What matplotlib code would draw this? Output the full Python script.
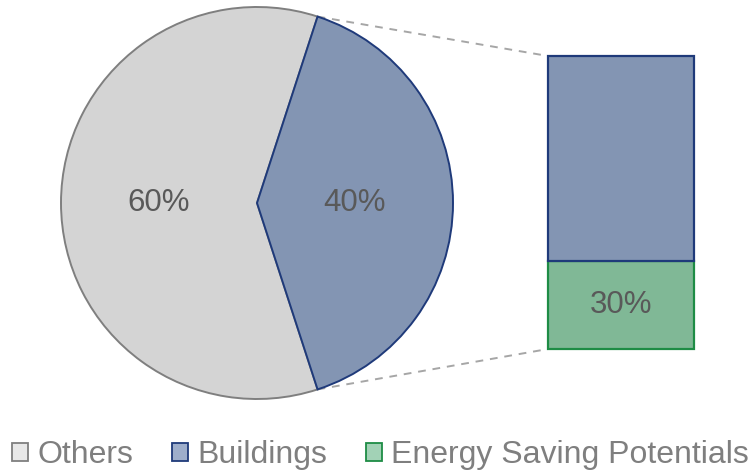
import matplotlib.pyplot as plt
import matplotlib.patches as mpatches
import numpy as np

plt.rcParams['font.family'] = ['Liberation Sans', 'DejaVu Sans']

# pie shares
pie_labels = ['Buildings', 'Others']
pie_values = [40, 60]
# breakdown of the buildings share
bar_labels = ['Energy Saving Potentials', 'Buildings']
bar_values = [30, 70]
legend_labels = ['Others', 'Buildings', 'Energy Saving Potentials']

fill = {'Others': '#d4d4d4', 'Buildings': '#8395b3', 'Energy Saving Potentials': '#80b896'}
edge = {'Others': '#7f7f7f', 'Buildings': '#1f3a7a', 'Energy Saving Potentials': '#1e8c45'}
light = {'Others': '#e8e8e8', 'Buildings': '#9eaecb', 'Energy Saving Potentials': '#a2d2b6'}

W, H = 755, 470
fig = plt.figure(figsize=(W / 100, H / 100), dpi=100)
ax = fig.add_axes([0, 0, 1, 1])
ax.set_xlim(0, W)
ax.set_ylim(0, H)
ax.set_aspect('equal')
ax.axis('off')

cx, cy, r = 257, 267, 196
half = 360 * pie_values[0] / sum(pie_values) / 2
wedges, _, autotexts = ax.pie(
    pie_values, center=(cx, cy), radius=r, startangle=-half,
    colors=[fill[l] for l in pie_labels], autopct='%1.0f%%', pctdistance=0.5,
    textprops={'fontsize': 22.5, 'color': '#595959'}, frame=True)
for w, l in zip(wedges, pie_labels):
    w.set_edgecolor(edge[l])
    w.set_linewidth(1.4)
wedges[0].set_zorder(3)
ax.set_xlim(0, W)
ax.set_ylim(0, H)
ax.axis('off')

# stacked bar
bx, bw, bbase, btotal = 621, 146, 121, 293
bottom = bbase
for l, v in zip(bar_labels, bar_values):
    h = btotal * v / sum(bar_values)
    ax.bar(bx, h, width=bw, bottom=bottom, color=fill[l], edgecolor=edge[l],
           linewidth=1.6, zorder=3)
    if l == 'Energy Saving Potentials':
        ax.text(bx, bottom + h / 2, f'{v}%', ha='center', va='center',
                fontsize=22.5, color='#595959', zorder=4)
    bottom += h

# connector lines from wedge edges to bar corners
a = np.deg2rad(half)
p_top = (cx + r * np.cos(a), cy + r * np.sin(a))
p_bot = (cx + r * np.cos(a), cy - r * np.sin(a))
left = bx - bw / 2
ax.plot([p_top[0], left], [p_top[1], bbase + btotal], ls=(0, (4, 3.5)),
        color='#a6a6a6', lw=1.4, zorder=2)
ax.plot([p_bot[0], left], [p_bot[1], bbase], ls=(0, (4, 3.5)),
        color='#a6a6a6', lw=1.4, zorder=2)

handles = [mpatches.Patch(facecolor=light[l], edgecolor=edge[l], linewidth=1.3)
           for l in legend_labels]
fig.legend(handles, legend_labels, loc='lower center', bbox_to_anchor=(0.504, -0.062),
           ncol=3, frameon=False, fontsize=23, labelcolor='#7f7f7f',
           handlelength=0.5, handleheight=0.5, handletextpad=0.3,
           columnspacing=1.2)

fig.savefig('out.png', dpi=100)
